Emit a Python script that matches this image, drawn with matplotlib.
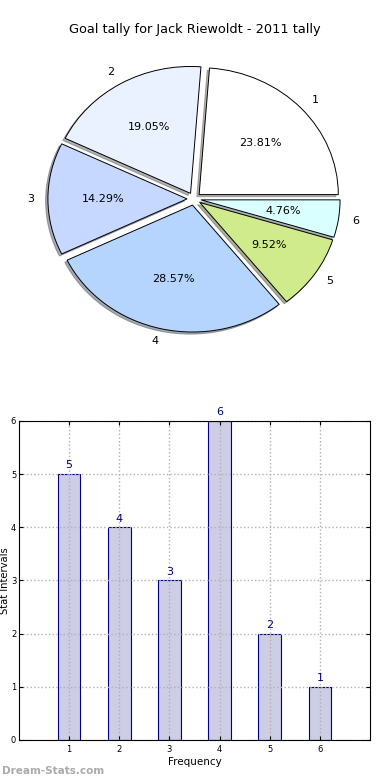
import matplotlib
matplotlib.use("Agg")
import matplotlib.pyplot as plt

labels = ["1", "2", "3", "4", "5", "6"]
values = [5, 4, 3, 6, 2, 1]
pie_colors = ["#ffffff", "#eaf1ff", "#c6d8ff", "#b5d5ff", "#d0eb8c", "#d9ffff"]
title = "Goal tally for Jack Riewoldt - 2011 tally"

fig = plt.figure(figsize=(3.9, 7.8), dpi=100)

# Pie
ax1 = fig.add_axes([0.105, 0.566, 0.785, 0.358])
wedges, texts, autotexts = ax1.pie(
    values, labels=labels, colors=pie_colors, explode=[0.05] * len(values),
    autopct="%1.2f%%", shadow={"ox": -0.012, "oy": -0.012, "shade": 0.6},
    startangle=0, counterclock=True,
    wedgeprops=dict(edgecolor="black", linewidth=0.7),
    textprops=dict(fontsize=8))
ax1.set_aspect("auto")
ax1.set_xlim(-1.1, 1.1)
ax1.set_ylim(-1.1, 1.1)
fig.text(0.5, 1 - 30 / 780, title, ha="center", va="center", fontsize=9.3)

# Bar
ax2 = fig.add_axes([0.0487, 0.0513, 0.9, 0.409])
x = list(range(1, len(values) + 1))
ax2.bar(x, values, width=0.45, color="#cdcde6",
        edgecolor="#000080", linewidth=0.8, zorder=2)
for xi, v in zip(x, values):
    ax2.text(xi, v + 0.07, str(v), ha="center", va="bottom", color="#000080", fontsize=8)
ax2.set_xlim(0, 7)
ax2.set_ylim(0, 6)
ax2.set_xticks(x)
ax2.set_xticklabels(labels)
ax2.set_yticks(range(0, 7))
ax2.tick_params(labelsize=6, direction="in", length=3, top=True, right=True)
ax2.tick_params(axis="y", pad=2)
ax2.grid(True, linestyle=":", color="#b0b0b0", linewidth=1, zorder=3)
ax2.set_axisbelow(False)
for sp in ax2.spines.values():
    sp.set_zorder(5)
ax2.set_xlabel("Frequency", fontsize=7.5, labelpad=2)
ax2.set_ylabel("Stat Intervals", fontsize=7.2)
ax2.yaxis.set_label_coords(-0.027, 0.5)

fig.text(0.005, 1 - 771 / 780, "Dream-Stats.com", ha="left", va="center",
         fontsize=7.5, color="#aaaaaa", fontweight="bold")

fig.savefig("out.png", dpi=100)
